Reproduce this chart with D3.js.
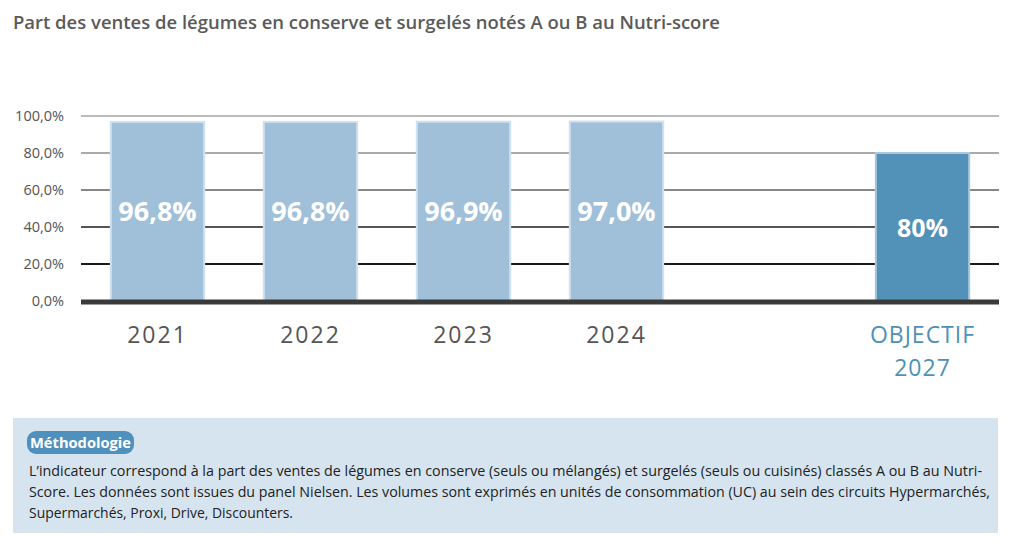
<!DOCTYPE html>
<html>
<head>
<meta charset="utf-8">
<script src="https://cdn.jsdelivr.net/npm/d3@7"></script>
<style>
  body { margin: 0; background: #fff; }
  text { font-family: "Open Sans", sans-serif; }
</style>
</head>
<body>
<script>
// data
const categories = ["2021", "2022", "2023", "2024", "", "OBJECTIF 2027"];
const values = [96.8, 96.8, 96.9, 97.0, null, 80];
const valueLabels = ["96,8%", "96,8%", "96,9%", "97,0%", "", "80%"];
const yTicks = [0, 20, 40, 60, 80, 100];
const yTickLabels = ["0,0%", "20,0%", "40,0%", "60,0%", "80,0%", "100,0%"];
const gridColors = ["#3a3a3a", "#1a1a1a", "#555", "#888", "#aaa", "#bbb"];
const noteLines = [
  "L\u2019indicateur correspond à la part des ventes de légumes en conserve (seuls ou mélangés) et surgelés (seuls ou cuisinés) classés A ou B au Nutri-",
  "Score. Les données sont issues du panel Nielsen. Les volumes sont exprimés en unités de consommation (UC) au sein des circuits Hypermarchés,",
  "Supermarchés, Proxi, Drive, Discounters."
];
const noteWidths = [953, 961, 264];

const W = 1010, H = 544;
const margin = {top: 116, right: 11, bottom: 243, left: 81};

const svg = d3.select("body").append("svg")
    .attr("width", W)
    .attr("height", H);

svg.append("text")
    .attr("x", 13).attr("y", 29)
    .attr("textLength", 707)
    .attr("lengthAdjust", "spacingAndGlyphs")
    .style("font-size", "18.5px")
    .style("font-weight", "600")
    .style("fill", "#5a5a5a")
    .text("Part des ventes de légumes en conserve et surgelés notés A ou B au Nutri-score");

const x = d3.scaleBand()
    .domain(categories.map((d, i) => i))
    .range([margin.left, W - margin.right])
    .paddingInner(0.39)
    .paddingOuter(0.195);

const y = d3.scaleLinear()
    .domain([0, 100])
    .range([301, margin.top]);

// gridlines
svg.append("g").selectAll("line")
    .data(yTicks.filter(d => d > 0))
    .join("line")
    .attr("x1", margin.left).attr("x2", W - margin.right)
    .attr("y1", d => y(d)).attr("y2", d => y(d))
    .attr("stroke", (d, i) => gridColors[i + 1])
    .attr("stroke-width", 2);

// y axis labels
const yAxis = svg.append("g")
    .attr("transform", "translate(" + (margin.left - 14) + ",0)")
    .call(d3.axisLeft(y).tickValues(yTicks).tickSize(0)
        .tickFormat((d, i) => yTickLabels[i]));
yAxis.select(".domain").remove();
yAxis.selectAll("text")
    .style("font-family", "Open Sans, sans-serif")
    .style("font-size", "14.5px")
    .style("fill", "#555");

// bars
const barData = categories.map((c, i) => ({c: c, v: values[i], label: valueLabels[i], i: i}))
    .filter(d => d.v !== null);

svg.append("g").selectAll("rect")
    .data(barData)
    .join("rect")
    .attr("x", d => x(d.i))
    .attr("width", x.bandwidth())
    .attr("y", d => y(d.v))
    .attr("height", d => y(0) - y(d.v))
    .attr("fill", d => d.i === 5 ? "#5292b9" : "#a0bfd9")
    .attr("stroke", d => d.i === 5 ? "#a9c7dd" : "#cfe0ee")
    .attr("stroke-width", 2);

// base line
svg.append("line")
    .attr("x1", margin.left).attr("x2", W - margin.right)
    .attr("y1", y(0) + 1).attr("y2", y(0) + 1)
    .attr("stroke", gridColors[0])
    .attr("stroke-width", 5);

// value labels
svg.append("g").selectAll("text")
    .data(barData)
    .join("text")
    .attr("x", d => x(d.i) + x.bandwidth() / 2)
    .attr("y", d => (y(d.v) + y(0)) / 2 + 10)
    .attr("text-anchor", "middle")
    .style("font-size", d => d.i === 5 ? "25px" : "27px")
    .style("font-weight", "700")
    .style("fill", "#fff")
    .text(d => d.label);

// category labels
const catG = svg.append("g").selectAll("text")
    .data(barData)
    .join("text")
    .attr("x", d => x(d.i) + x.bandwidth() / 2)
    .attr("y", 343)
    .attr("text-anchor", "middle")
    .style("font-size", "23px")
    .style("letter-spacing", d => d.i === 5 ? "1px" : "2px")
    .style("fill", d => d.i === 5 ? "#4f90b8" : "#555");
catG.selectAll("tspan")
    .data(d => d.c.split(" ").map(s => ({s: s, x: x(d.i) + x.bandwidth() / 2})))
    .join("tspan")
    .attr("x", d => d.x)
    .attr("dy", (d, i) => i === 0 ? 0 : 33)
    .text(d => d.s);

// methodology box
svg.append("rect")
    .attr("x", 13).attr("y", 418)
    .attr("width", 985).attr("height", 115)
    .attr("fill", "#d6e4ef");

svg.append("rect")
    .attr("x", 27).attr("y", 431)
    .attr("width", 107).attr("height", 23)
    .attr("rx", 9)
    .attr("fill", "#4f90bd");

svg.append("text")
    .attr("x", 30).attr("y", 448)
    .attr("textLength", 101)
    .attr("lengthAdjust", "spacingAndGlyphs")
    .style("font-size", "15px")
    .style("font-weight", "700")
    .style("fill", "#fff")
    .text("Méthodologie");

svg.append("g").selectAll("text")
    .data(noteLines)
    .join("text")
    .attr("x", 29)
    .attr("y", (d, i) => 476 + i * 21)
    .attr("textLength", (d, i) => noteWidths[i])
    .attr("lengthAdjust", "spacingAndGlyphs")
    .style("font-size", "14px")
    .style("fill", "#222")
    .text(d => d);
</script>
</body>
</html>
